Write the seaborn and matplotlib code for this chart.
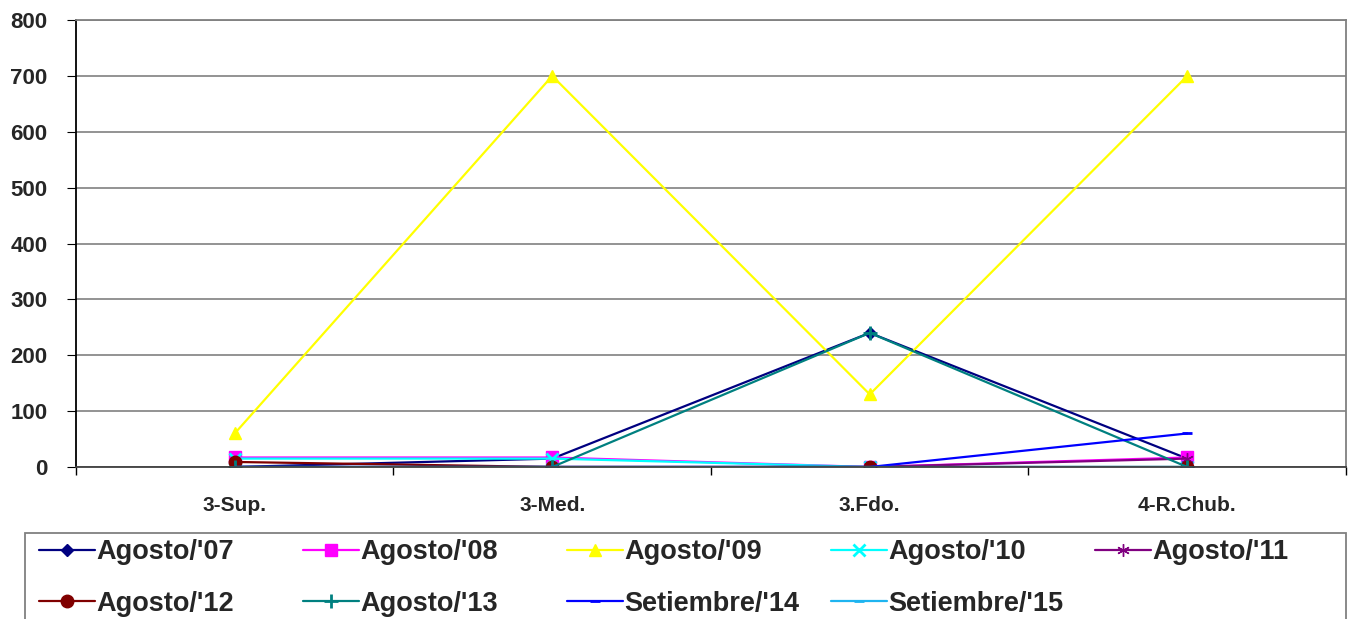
import numpy as np
import pandas as pd
import matplotlib
matplotlib.use("Agg")
import matplotlib.pyplot as plt
from matplotlib.patches import Rectangle
import seaborn as sns

# Data
categories = ['3-Sup.', '3-Med.', '3.Fdo.', '4-R.Chub.']
series_names = ["Agosto/'07", "Agosto/'08", "Agosto/'09", "Agosto/'10", "Agosto/'11",
                "Agosto/'12", "Agosto/'13", "Setiembre/'14", "Setiembre/'15"]
agosto_07 = [0, 15, 240, 15]
agosto_08 = [17, 17, 0, 17]
agosto_09 = [60, 700, 130, 700]
agosto_10 = [15, 15, 0, 0]
agosto_11 = [0, 0, 0, 15]
agosto_12 = [9, 0, 0, 0]
agosto_13 = [0, 0, 240, 0]
setiembre_14 = [0, 0, 0, 60]
setiembre_15 = [0, 0, 0, 0]
all_values = [agosto_07, agosto_08, agosto_09, agosto_10, agosto_11,
              agosto_12, agosto_13, setiembre_14, setiembre_15]

colors = ['#000080', '#FF00FF', '#FFFF00', '#00FFFF', '#800080',
          '#800000', '#008080', '#0000FF', '#1EB4F0']
markers = ['D', 's', '^', 'x', (6, 2, 0), 'o', '+', '_', '_']
msizes = [6, 8, 9, 8, 9, 9, 10, 7, 7]

sns.set_style("white")
plt.rcParams['font.family'] = ['Liberation Sans', 'DejaVu Sans']
plt.rcParams['font.weight'] = 'bold'

fig = plt.figure(figsize=(13.54, 6.19), dpi=100)
ax = fig.add_axes([0.0561, 0.2456, 0.938, 0.722])

xpos = np.arange(len(categories))
handles = []
for name, vals, c, m, ms in zip(series_names, all_values, colors, markers, msizes):
    df = pd.DataFrame({'x': xpos, 'y': vals})
    sns.lineplot(data=df, x='x', y='y', ax=ax, color=c, marker=m, markersize=ms,
                 markeredgecolor=c, markeredgewidth=2 if m in ('x', '+', '_') else 1,
                 linewidth=1.6, label=name, legend=False, sort=False)
    handles.append(ax.lines[-1])

ax.set_xlim(-0.5, 3.5)
ax.set_ylim(0, 800)
ax.set_yticks(np.arange(0, 801, 100))
ax.set_xticks(xpos)
ax.set_xticklabels(categories)
ax.set_xticks(np.arange(-0.5, 3.6, 1), minor=True)
ax.tick_params(axis='x', which='major', length=0, pad=21, labelsize=15)
ax.tick_params(axis='x', which='minor', length=6, direction='out', color='black', width=1, bottom=True)
ax.tick_params(axis='y', length=6.5, direction='out', color='black', labelsize=16, left=True, pad=14)
for lab in ax.get_xticklabels() + ax.get_yticklabels():
    lab.set_fontweight('bold')
ax.set_xlabel('')
ax.set_ylabel('')

ax.yaxis.grid(True, color='#808080', linewidth=1.2)
ax.set_axisbelow(True)
ax.spines['left'].set_color('black')
ax.spines['bottom'].set_color('#404040')
ax.spines['top'].set_color('#808080')
ax.spines['right'].set_color('#808080')
for s in ax.spines.values():
    s.set_linewidth(1.3)

# legend: frame box plus one small legend per column (fixed column pitch like Excel)
fig.patches.append(Rectangle((25 / 1354, -0.05), (1346 - 25) / 1354, 0.05 + 1 - 533 / 619,
                             transform=fig.transFigure, fill=False,
                             edgecolor='#808080', linewidth=1.3))
col_left = [39, 303, 567, 831, 1095]
for ci, x0 in enumerate(col_left):
    idx = [i for i in (ci, ci + 5) if i < len(series_names)]
    leg = fig.legend([handles[i] for i in idx], [series_names[i] for i in idx],
                     loc='upper left', bbox_to_anchor=(x0 / 1354, 1 - 539 / 619),
                     frameon=False, fontsize=19.5, handlelength=2.05,
                     handletextpad=0.05, borderpad=0, labelspacing=0.95,
                     borderaxespad=0)
    for t in leg.get_texts():
        t.set_fontweight('bold')

fig.savefig('out.png', dpi=100)
